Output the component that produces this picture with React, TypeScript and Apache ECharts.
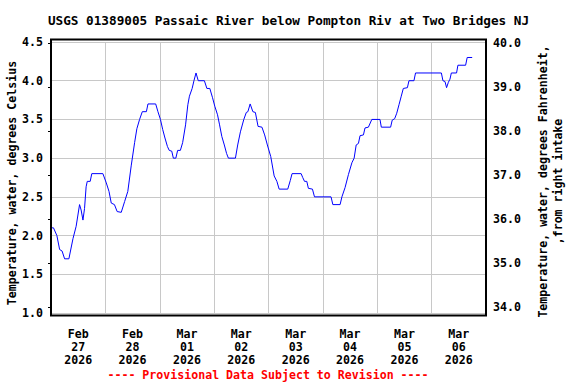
import React, { useEffect, useRef } from "react";
import * as echarts from "echarts";

// Hours since 2026-02-27 00:00 and water temperature (deg C)
const hours: number[] = [
  0, 1.1, 2.6, 3.8, 4.9, 6, 7.9, 9.7, 11.1, 12.6, 13.3, 14.1, 14.8, 15.5, 16, 17.3, 18, 22.9,
  24.4, 25.6, 26.6, 28, 29.2, 31, 32.5, 33.9, 35.4, 36.9, 37.9, 39.1, 40.3, 42.1, 42.8, 46.2,
  47.2, 48.3, 49.3, 50.3, 51.4, 52.2, 53.3, 54, 55.1, 55.9, 57.1, 58.1, 59.4, 60.4, 61.1, 62.3,
  63.1, 64, 65, 67.7, 68.8, 70.1, 71.3, 72.3, 73.5, 74.4, 75.4, 76.5, 77.5, 78.3, 81.4, 82.4,
  83.6, 85.1, 86.2, 86.9, 87.9, 89.1, 90.2, 91.4, 93.1, 94.3, 95.5, 97, 98.5, 99.7, 100.7, 104.5,
  105.6, 106.4, 110.4, 111.1, 111.9, 112.9, 113.6, 115.4, 116.3, 123.6, 124.4, 127.6, 128.4,
  129.8, 131.3, 132.8, 133.8, 134.7, 135.7, 136.4, 137.9, 138.6, 140.1, 141.6, 145.2, 145.8,
  149.9, 150.6, 151.7, 152.6, 153.6, 154.6, 155.5, 157.3, 158, 160.2, 160.9, 172.3, 173, 173.9,
  174.6, 175.4, 176.1, 176.7, 179, 179.6, 183, 183.7, 185.9,
];
const tempC: number[] = [
  2.1, 2.1, 2.0, 1.82, 1.8, 1.7, 1.7, 1.96, 2.12, 2.4, 2.33, 2.2, 2.35, 2.63, 2.7, 2.7, 2.8, 2.8,
  2.68, 2.57, 2.42, 2.4, 2.31, 2.3, 2.44, 2.57, 2.9, 3.2, 3.38, 3.5, 3.6, 3.6, 3.7, 3.7,
  3.6, 3.5, 3.37, 3.26, 3.15, 3.1, 3.09, 3.0, 3.0, 3.1, 3.1, 3.2, 3.43, 3.69, 3.8, 3.9,
  4.0, 4.1, 4.0, 4.0, 3.9, 3.9, 3.78, 3.67, 3.56, 3.43, 3.28, 3.17, 3.06, 3.0, 3.0, 3.17,
  3.34, 3.5, 3.59, 3.6, 3.7, 3.6, 3.59, 3.41, 3.4, 3.3, 3.17, 3.02, 2.77, 2.7, 2.6, 2.6,
  2.71, 2.8, 2.8, 2.75, 2.7, 2.7, 2.61, 2.6, 2.5, 2.5, 2.4, 2.4, 2.5,
  2.62, 2.79, 2.94, 3.0, 3.17, 3.19, 3.29, 3.3, 3.39, 3.4, 3.5, 3.5, 3.4,
  3.4, 3.49, 3.51, 3.58, 3.69, 3.8, 3.9, 3.91, 4.0, 4.0, 4.1, 4.1, 4.0, 3.99,
  3.91, 3.98, 4.02, 4.1, 4.1, 4.2, 4.2, 4.3, 4.3,
];

const dayMonths: string[] = ["Feb", "Feb", "Mar", "Mar", "Mar", "Mar", "Mar", "Mar"];
const dayNumbers: string[] = ["27", "28", "01", "02", "03", "04", "05", "06"];
const dayYears: string[] = ["2026", "2026", "2026", "2026", "2026", "2026", "2026", "2026"];

const titleText = "USGS 01389005 Passaic River below Pompton Riv at Two Bridges NJ";
const leftAxisName = "Temperature, water, degrees Celsius";
const rightAxisName1 = "Temperature, water, degrees Fahrenheit,";
const rightAxisName2 = ",from right intake";
const footerText = "---- Provisional Data Subject to Revision ----";

const FONT = "'DejaVu Sans Mono', 'Liberation Mono', monospace";

export default function App() {
  const ref = useRef<HTMLDivElement>(null);
  useEffect(() => {
    document.body.style.margin = "0";
    if (!ref.current) return;
    const chart = echarts.init(ref.current, null, { renderer: "svg" });
    const data = hours.map((h, i) => [h, tempC[i]]);
    const labelStyle = {
      fontFamily: FONT,
      fontWeight: "bold" as const,
      fontSize: 11.6,
      color: "#000",
    };
    chart.setOption({
      animation: false,
      backgroundColor: "#fff",
      grid: [
        { left: 51, width: 435, top: 42, height: 271, containLabel: false },
        { left: 51, width: 435, top: 43, height: 264, containLabel: false },
      ],
      xAxis: [
        {
          type: "value",
          gridIndex: 0,
          min: 0,
          max: 192,
          interval: 24,
          axisLine: { show: false },
          axisTick: { show: false },
          axisLabel: { show: false },
          splitLine: { show: true, lineStyle: { color: "#c8c8c8", width: 1 } },
        },
        {
          type: "value",
          gridIndex: 0,
          position: "bottom",
          min: 0,
          max: 192,
          interval: 12,
          axisLine: { show: false },
          axisTick: { show: false },
          splitLine: { show: false },
          axisLabel: {
            ...labelStyle,
            margin: 14,
            lineHeight: 13,
            formatter: (v: number) => {
              if (Math.round(v) % 24 !== 12) return "";
              const i = Math.floor(v / 24);
              return `${dayMonths[i]}\n${dayNumbers[i]}\n${dayYears[i]}`;
            },
          },
        },
        {
          type: "value",
          gridIndex: 1,
          min: 0,
          max: 1,
          show: false,
        },
      ],
      yAxis: [
        {
          type: "value",
          gridIndex: 0,
          position: "left",
          min: 1,
          max: 4.5,
          interval: 0.5,
          axisLine: { show: false },
          axisTick: { show: false },
          axisLabel: {
            ...labelStyle,
            margin: 8,
            formatter: (v: number) => v.toFixed(1),
          },
          splitLine: { show: true, lineStyle: { color: "#c8c8c8", width: 1 } },
        },
        {
          type: "value",
          gridIndex: 1,
          position: "right",
          min: 34,
          max: 40,
          interval: 1,
          axisLine: { show: false },
          axisTick: {
            show: true,
            inside: true,
            length: 3,
            lineStyle: { color: "#000", width: 1 },
          },
          axisLabel: {
            ...labelStyle,
            margin: 7,
            formatter: (v: number) => v.toFixed(1),
          },
          splitLine: { show: false },
        },
      ],
      series: [
        {
          type: "line",
          xAxisIndex: 0,
          yAxisIndex: 0,
          data,
          showSymbol: false,
          symbol: "none",
          lineStyle: { color: "#0000ff", width: 1 },
          z: 3,
        },
      ],
      graphic: [
        {
          type: "rect",
          shape: { x: 51, y: 39.5, width: 435, height: 276 },
          style: { fill: "none", stroke: "#000", lineWidth: 2 },
          z: 10,
          silent: true,
        },
        {
          type: "text",
          x: 288.5,
          y: 20,
          style: {
            text: titleText,
            fontFamily: FONT,
            fontWeight: "bold",
            fontSize: 12.7,
            fill: "#000",
            textAlign: "center",
            textVerticalAlign: "middle",
          },
        },
        {
          type: "text",
          x: 12,
          y: 183,
          rotation: Math.PI / 2,
          style: {
            text: leftAxisName,
            fontFamily: FONT,
            fontWeight: "bold",
            fontSize: 11.6,
            fill: "#000",
            textAlign: "center",
            textVerticalAlign: "middle",
          },
        },
        {
          type: "text",
          x: 543,
          y: 181.5,
          rotation: Math.PI / 2,
          style: {
            text: rightAxisName1,
            fontFamily: FONT,
            fontWeight: "bold",
            fontSize: 11.6,
            fill: "#000",
            textAlign: "center",
            textVerticalAlign: "middle",
          },
        },
        {
          type: "text",
          x: 558,
          y: 181.5,
          rotation: Math.PI / 2,
          style: {
            text: rightAxisName2,
            fontFamily: FONT,
            fontWeight: "bold",
            fontSize: 11.6,
            fill: "#000",
            textAlign: "center",
            textVerticalAlign: "middle",
          },
        },
        {
          type: "text",
          x: 268,
          y: 375,
          style: {
            text: footerText,
            fontFamily: FONT,
            fontWeight: "bold",
            fontSize: 11.6,
            fill: "#ff0000",
            textAlign: "center",
            textVerticalAlign: "middle",
          },
        },
      ],
    });
    return () => chart.dispose();
  }, []);
  return (
    <div
      ref={ref}
      style={{ position: "absolute", left: 0, top: 0, width: 576, height: 384, background: "#fff" }}
    />
  );
}
